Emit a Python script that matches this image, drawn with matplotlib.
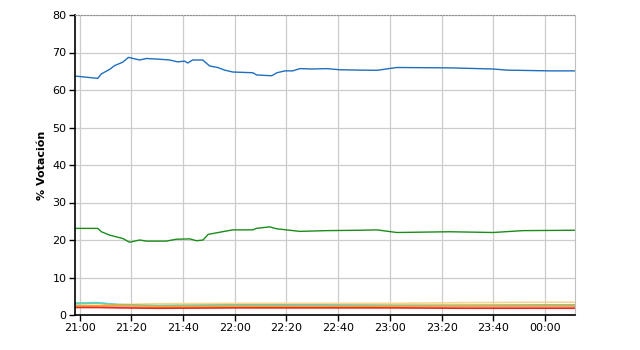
import matplotlib
matplotlib.use("Agg")
import matplotlib.pyplot as plt

# minutes after 21:00
blue_t = [-1.5, 7, 8.4, 11.6, 13.5, 16.6, 18.9, 23.2, 25.8, 31, 34.8, 37.9, 40.6, 41.8, 43.7, 47.6, 50.3,
          53.4, 56.1, 59.2, 67, 68.5, 74.3, 76.3, 79.4, 82.4, 85.2, 90.2, 95.6, 100.6, 108.4, 115, 122.7,
          143.2, 159.9, 165.3, 181.9, 191.6]
blue_v = [63.7, 63.1, 64.3, 65.5, 66.5, 67.4, 68.7, 68.0, 68.4, 68.2, 68.0, 67.5, 67.7, 67.2, 68.0, 68.0, 66.4,
          66.0, 65.3, 64.8, 64.6, 64.0, 63.8, 64.6, 65.1, 65.1, 65.7, 65.6, 65.7, 65.4, 65.3, 65.25, 66.0,
          65.9, 65.6, 65.3, 65.1, 65.1]

green_t = [-1.5, 7, 8.4, 11.6, 16.7, 19.3, 23.2, 25.8, 33.5, 37.4, 42.6, 45.2, 47.7, 49.7, 52.9, 56.8, 59.3,
           67, 68.3, 73.5, 76.1, 79.9, 85.2, 95.5, 108.4, 115, 122.7, 143.2, 159.9, 171.5, 191.6]
green_v = [23.1, 23.1, 22.2, 21.3, 20.4, 19.4, 20.0, 19.7, 19.7, 20.2, 20.3, 19.8, 20.0, 21.5, 21.9, 22.4, 22.7,
           22.7, 23.1, 23.5, 23.0, 22.7, 22.3, 22.5, 22.6, 22.7, 22.0, 22.2, 22.0, 22.5, 22.6]

small_t = [-1.5, 7, 15, 30, 60, 90, 120, 150, 180, 191.6]
red_v = [2.0, 2.0, 1.9, 1.8, 1.9, 1.9, 1.9, 1.8, 1.8, 1.8]
orange_v = [2.4, 2.5, 2.6, 2.3, 2.4, 2.3, 2.4, 2.5, 2.5, 2.5]
yellow_v = [3.0, 3.1, 2.8, 3.0, 3.1, 3.1, 3.1, 3.3, 3.4, 3.4]
cyan_v = [3.0, 3.2, 2.8, 2.5, 2.7, 2.7, 2.6, 2.6, 2.7, 2.7]
pink_v = [2.3, 2.3, 2.2, 2.1, 2.2, 2.3, 2.2, 2.2, 2.2, 2.2]
lgreen_v = [3.2, 3.3, 2.6, 2.5, 2.6, 2.5, 2.5, 2.5, 2.5, 2.5]

x_ticks = [0, 20, 40, 60, 80, 100, 120, 140, 160, 180]
x_labels = ["21:00", "21:20", "21:40", "22:00", "22:20", "22:40", "23:00", "23:20", "23:40", "00:00"]
y_ticks = [0, 10, 20, 30, 40, 50, 60, 70, 80]

fig = plt.figure(figsize=(6.4, 3.5), dpi=100)
ax = fig.add_axes([75/640, 35/350, 500/640, 300/350])

for v, c in [(lgreen_v, "#7fcf7f"), (yellow_v, "#f7d58c"), (cyan_v, "#4fd3d3"),
             (pink_v, "#f4a0a0"), (orange_v, "#f5a623"), (red_v, "#e8281e")]:
    ax.plot(small_t, v, color=c, lw=1.2)
ax.plot(green_t, green_v, color="#1a8c1a", lw=1.0)
ax.plot(blue_t, blue_v, color="#1f6fc0", lw=1.0)

ax.set_xlim(-1.8, 191.6)
ax.set_ylim(0, 80)
ax.set_xticks(x_ticks)
ax.set_xticklabels(x_labels)
ax.set_yticks(y_ticks)
ax.grid(True, color="#cccccc", lw=0.9)
ax.set_axisbelow(True)
ax.tick_params(labelsize=8, length=4, width=1, colors="black", pad=2)
ax.set_ylabel("% Votación", fontsize=8, fontweight="bold", labelpad=4)
for s in ["left", "bottom"]:
    ax.spines[s].set_color("black")
    ax.spines[s].set_linewidth(1.2)
ax.spines["top"].set_color("#909090")
ax.spines["top"].set_linestyle(":")
ax.spines["right"].set_color("#c0c0c0")

fig.savefig("out.png", dpi=100)
